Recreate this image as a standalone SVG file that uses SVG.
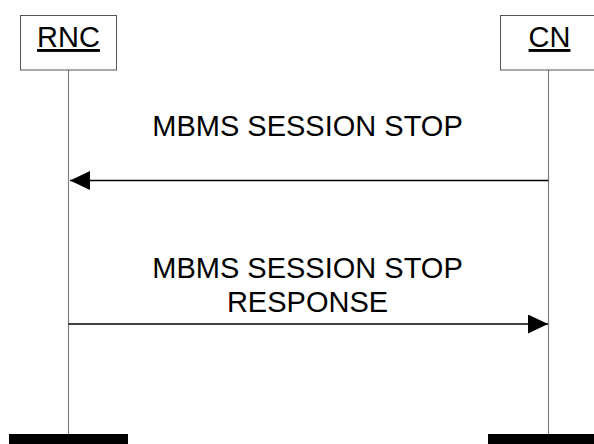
<svg xmlns="http://www.w3.org/2000/svg" width="594" height="444" viewBox="0 0 594 444">
<style>
.box{fill:#fff;stroke:#555;stroke-width:1}
.life{stroke:#808080;stroke-width:1.2}
.lbl{font-family:"Liberation Sans",Arial,sans-serif;font-size:29px;fill:#000;text-anchor:middle}
.msg{stroke:#000;stroke-width:1.5;fill:none}
.bar{fill:#000}
</style>
<defs>
<marker id="ah" markerWidth="20" markerHeight="19" refX="20" refY="9.5" orient="auto" markerUnits="userSpaceOnUse">
<path d="M0,0 L20,9.5 L0,19 Z" fill="#000"/>
</marker>
</defs>
<rect width="594" height="444" fill="#fff"/>
<g id="RNC">
<line class="life" x1="68.5" y1="70" x2="68.5" y2="434"/>
<rect class="box" x="20.5" y="15.5" width="96" height="54.5"/>
<text class="lbl" x="68.5" y="47" text-decoration="underline">RNC</text>
<rect class="bar" x="9" y="434" width="119" height="10"/>
</g>
<g id="CN">
<line class="life" x1="548.5" y1="70" x2="548.5" y2="434"/>
<rect class="box" x="500.5" y="15.5" width="96" height="54.5"/>
<text class="lbl" x="549.5" y="47" text-decoration="underline">CN</text>
<rect class="bar" x="488" y="434" width="106" height="10"/>
</g>
<g id="connectors">
<line class="msg" x1="548.5" y1="180.5" x2="70" y2="180.5" marker-end="url(#ah)"/>
<text class="lbl" x="307.5" y="136">MBMS SESSION STOP</text>
<line class="msg" x1="68.5" y1="324" x2="548" y2="324" marker-end="url(#ah)"/>
<text class="lbl" x="307.5" y="278">MBMS SESSION STOP</text>
<text class="lbl" x="307.5" y="312">RESPONSE</text>
</g>
</svg>
